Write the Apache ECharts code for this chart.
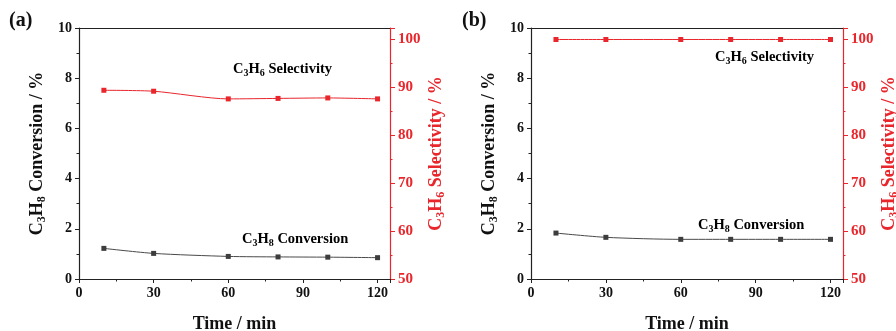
<!DOCTYPE html>
<html>
<head>
<meta charset="utf-8">
<script src="https://cdn.jsdelivr.net/npm/echarts@6/dist/echarts.min.js"></script>
<style>
  html, body { margin: 0; padding: 0; background: #fff; }
  #chart { width: 896px; height: 331px; }
</style>
</head>
<body>
<div id="chart"></div>
<script>
// Sampling times (min)
const timeMin = [10, 30, 60, 80, 100, 120];

// Panel (a)
const conversionA = [1.22, 1.02, 0.90, 0.88, 0.87, 0.85];
const selectivityA = [89.4, 89.2, 87.6, 87.7, 87.8, 87.6];

// Panel (b)
const conversionB = [1.83, 1.66, 1.58, 1.58, 1.58, 1.58];
const selectivityB = [100, 100, 100, 100, 100, 100];

const panelLabels = ['(a)', '(b)'];

const FONT = '"Liberation Serif", "Times New Roman", serif';
const BLACK = '#111111';
const RED = '#e8262c';
const LINE_GRAY = '#4a4a4a';

const pairs = (xs, ys) => xs.map((x, i) => [x, ys[i]]);

// Rich-text styles: n = normal run, s = subscript (smaller, pushed down)
const subRich = (color, size) => ({
  n: { fontFamily: FONT, fontWeight: 'bold', fontSize: size, color: color },
  s: { fontFamily: FONT, fontWeight: 'bold', fontSize: Math.round(size * 0.68), color: color,
       padding: [Math.round(size * 0.5), 0, 0, 0] }
});

// Fixed plot rectangles; labels and names may extend past them
const grids = [
  { left: 79, right: 506, top: 28, bottom: 52, containLabel: false, outerBoundsMode: 'none' },
  { left: 531, right: 53, top: 28, bottom: 52, containLabel: false, outerBoundsMode: 'none' }
];

function xAxisFor(gi) {
  return {
    type: 'value', gridIndex: gi, min: 0, max: 125, interval: 30,
    name: 'Time / min', nameLocation: 'middle', nameGap: 36,
    nameTextStyle: { fontFamily: FONT, fontWeight: 'bold', fontSize: 18, color: BLACK },
    axisLine: { show: true, onZero: false, lineStyle: { color: '#222', width: 1.2 } },
    axisTick: { show: true, inside: false, length: 4, lineStyle: { color: '#222' } },
    minorTick: { show: true, splitNumber: 2, length: 2.5, lineStyle: { color: '#222' } },
    axisLabel: { fontFamily: FONT, fontWeight: 'bold', fontSize: 14, color: BLACK, margin: 7, showMaxLabel: false },
    splitLine: { show: false }
  };
}

function leftAxisFor(gi) {
  return {
    type: 'value', gridIndex: gi, position: 'left', min: 0, max: 10, interval: 2,
    name: '{n|C}{s|3}{n|H}{s|8}{n| Conversion / %}',
    nameLocation: 'middle', nameGap: 31, nameRotate: 90,
    nameTextStyle: { rich: subRich(BLACK, 18) },
    axisLine: { show: true, onZero: false, lineStyle: { color: '#222', width: 1.2 } },
    axisTick: { show: true, length: 4, lineStyle: { color: '#222' } },
    minorTick: { show: true, splitNumber: 2, length: 2.5, lineStyle: { color: '#222' } },
    axisLabel: { fontFamily: FONT, fontWeight: 'bold', fontSize: 14, color: BLACK, margin: 7 },
    splitLine: { show: false }
  };
}

function rightAxisFor(gi) {
  return {
    type: 'value', gridIndex: gi, position: 'right', min: 50, max: 102.4, interval: 10,
    name: '{n|C}{s|3}{n|H}{s|6}{n| Selectivity / %}',
    nameLocation: 'middle', nameGap: 36, nameRotate: 90,
    nameTextStyle: { rich: subRich(RED, 18) },
    axisLine: { show: true, onZero: false, lineStyle: { color: RED, width: 1.2 } },
    axisTick: { show: true, length: 5, lineStyle: { color: RED } },
    minorTick: { show: true, splitNumber: 2, length: 2.5, lineStyle: { color: RED } },
    axisLabel: { fontFamily: FONT, fontWeight: 'bold', fontSize: 15, color: RED, margin: 8, showMaxLabel: false },
    splitLine: { show: false }
  };
}

// Top edge of each frame, drawn as a bare x axis
function topFrame(gi) {
  return {
    type: 'value', gridIndex: gi, position: 'top', min: 0, max: 125,
    axisLine: { show: true, onZero: false, lineStyle: { color: '#222', width: 1.2 } },
    axisTick: { show: false }, axisLabel: { show: false }, splitLine: { show: false }
  };
}

function lineSeries(xi, yi, data, color, lineColor) {
  return {
    type: 'line', xAxisIndex: xi, yAxisIndex: yi, data: data,
    symbol: 'rect', symbolSize: 5, smooth: 0.25,
    itemStyle: { color: color },
    lineStyle: { color: lineColor, width: 1 },
    z: 3, silent: true, animation: false
  };
}

const annotation = (left, top, sub, rest) => ({
  type: 'text', left: left, top: top,
  style: {
    text: '{n|C}{s|3}{n|H}{s|' + sub + '}{n|' + rest + '}',
    rich: subRich(BLACK, 14.5)
  }
});

const option = {
  backgroundColor: '#ffffff',
  animation: false,
  grid: grids,
  xAxis: [xAxisFor(0), xAxisFor(1), topFrame(0), topFrame(1)],
  yAxis: [leftAxisFor(0), rightAxisFor(0), leftAxisFor(1), rightAxisFor(1)],
  series: [
    lineSeries(0, 0, pairs(timeMin, conversionA), '#3d3d3d', LINE_GRAY),
    lineSeries(0, 1, pairs(timeMin, selectivityA), RED, RED),
    lineSeries(1, 2, pairs(timeMin, conversionB), '#3d3d3d', LINE_GRAY),
    lineSeries(1, 3, pairs(timeMin, selectivityB), RED, RED)
  ],
  graphic: [
    { type: 'text', left: 9, top: 11, style: { text: panelLabels[0], fontFamily: FONT, fontWeight: 'bold', fontSize: 20, fill: BLACK } },
    { type: 'text', left: 462, top: 11, style: { text: panelLabels[1], fontFamily: FONT, fontWeight: 'bold', fontSize: 20, fill: BLACK } },
    annotation(233, 62, '6', ' Selectivity'),
    annotation(242, 232, '8', ' Conversion'),
    annotation(715, 50, '6', ' Selectivity'),
    annotation(698, 218, '8', ' Conversion')
  ]
};

const chart = echarts.init(document.getElementById('chart'), null, { renderer: 'canvas' });
chart.setOption(option);
</script>
</body>
</html>
